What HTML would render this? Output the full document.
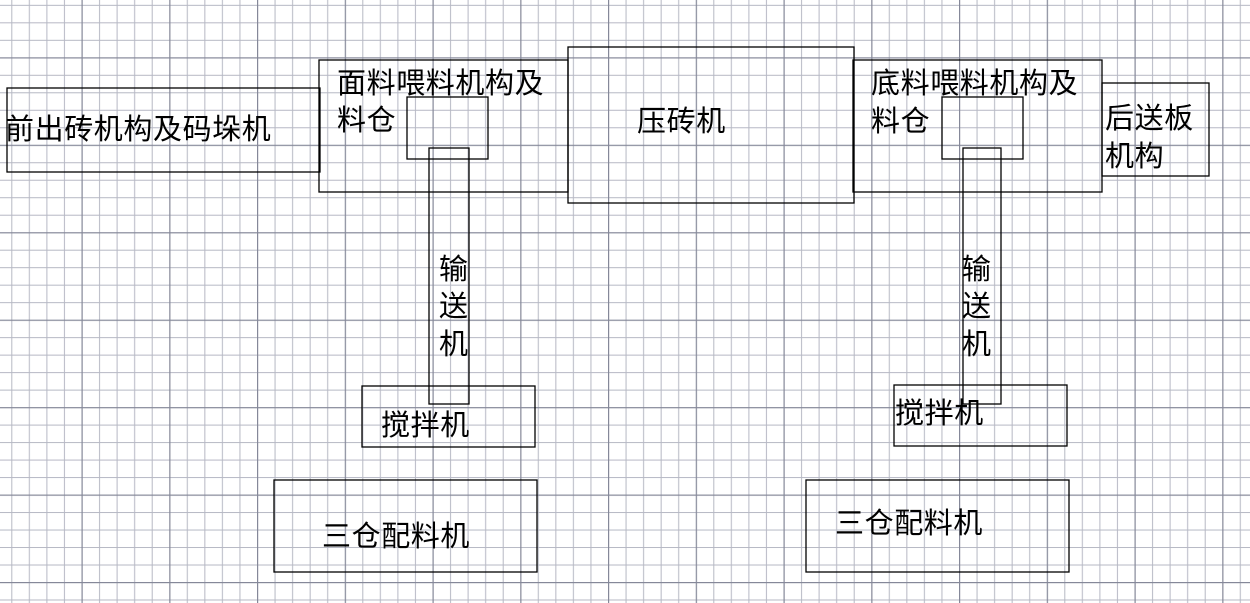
<!DOCTYPE html>
<html><head><meta charset="utf-8"><style>
html,body{margin:0;padding:0;background:#fff;}
svg{display:block;}
text{font-family:"Liberation Sans","Noto Sans CJK SC",sans-serif;font-size:29px;fill:#000;letter-spacing:0.6px;}
</style></head><body>
<svg width="1250" height="603" viewBox="0 0 1250 603" xmlns="http://www.w3.org/2000/svg">
<defs>
<pattern id="g" patternUnits="userSpaceOnUse" x="81.5" y="57.3" width="87.75" height="87.45">
<rect x="0" y="0" width="87.75" height="87.45" fill="#fff"/>
<g fill="#b6b8c4">
<rect x="17.55" y="0" width="1" height="87.45"/>
<rect x="35.1" y="0" width="1" height="87.45"/>
<rect x="52.65" y="0" width="1" height="87.45"/>
<rect x="70.2" y="0" width="1" height="87.45"/>
<rect x="0" y="17.49" width="87.75" height="1"/>
<rect x="0" y="34.98" width="87.75" height="1"/>
<rect x="0" y="52.47" width="87.75" height="1"/>
<rect x="0" y="69.96" width="87.75" height="1"/>
</g>
<g fill="#858899">
<rect x="0" y="0" width="1.2" height="87.45"/>
<rect x="0" y="0" width="87.75" height="1.2"/>
</g>
</pattern>
</defs>
<rect width="1250" height="603" fill="url(#g)"/>
<g fill="none" stroke="#000" stroke-width="1.3">
<rect x="7" y="88" width="313" height="84"/>
<rect x="319" y="60" width="249" height="132"/>
<rect x="407" y="97" width="81" height="62"/>
<rect x="429" y="148" width="40" height="256"/>
<rect x="362" y="386" width="173" height="61"/>
<rect x="274" y="480" width="263" height="92"/>
<rect x="568" y="47" width="286" height="156"/>
<rect x="853" y="60" width="249" height="132"/>
<rect x="942" y="97" width="81" height="62"/>
<rect x="963" y="148" width="38" height="256"/>
<rect x="1102" y="83" width="107" height="93"/>
<rect x="894" y="385" width="173" height="61"/>
<rect x="806" y="480" width="263" height="92"/>
</g>
<text x="5" y="139">前出砖机构及码垛机</text>
<text x="337" y="93">面料喂料机构及</text>
<text x="337" y="130">料仓</text>
<text x="439" y="279">输</text>
<text x="439" y="316">送</text>
<text x="439" y="354">机</text>
<text x="637" y="131">压砖机</text>
<text x="871" y="93">底料喂料机构及</text>
<text x="871" y="131">料仓</text>
<text x="1105" y="128">后送板</text>
<text x="1105" y="166">机构</text>
<text x="962" y="279">输</text>
<text x="962" y="316">送</text>
<text x="962" y="354">机</text>
<text x="381" y="435">搅拌机</text>
<text x="895" y="423">搅拌机</text>
<text x="322" y="546">三仓配料机</text>
<text x="835" y="533">三仓配料机</text>
</svg>
</body></html>
